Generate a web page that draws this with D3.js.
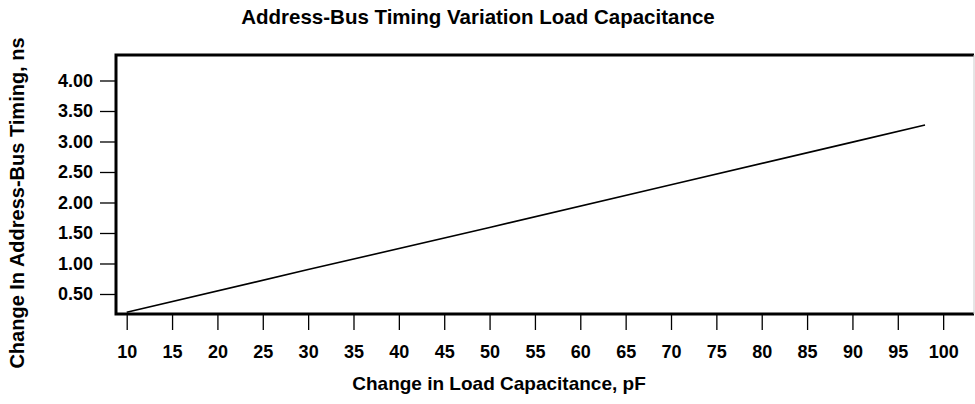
<!DOCTYPE html>
<html>
<head>
<meta charset="utf-8">
<script src="https://cdn.jsdelivr.net/npm/d3@7"></script>
<style>
  body { margin: 0; background: #fff; }
  text { font-family: "Liberation Sans", Arial, Helvetica, sans-serif; font-weight: bold; fill: #000; }
</style>
</head>
<body>
<script>
// load capacitance (pF) vs change in address-bus timing (ns)
var capacitance = [10, 30, 50, 70, 90, 98];
var timingChange = [0.20, 0.90, 1.59, 2.29, 2.99, 3.27];

var xTicks = [10, 15, 20, 25, 30, 35, 40, 45, 50, 55, 60, 65, 70, 75, 80, 85, 90, 95, 100];
var yTicks = [0.50, 1.00, 1.50, 2.00, 2.50, 3.00, 3.50, 4.00];

var titleText = "Address-Bus Timing Variation Load Capacitance";
var xTitle = "Change in Load Capacitance, pF";
var yTitle = "Change In Address-Bus Timing, ns";

var width = 975, height = 404;
var plot = { left: 116, right: 974, top: 55, bottom: 314 };
var tickLen = 16;

var data = capacitance.map(function(c, i) {
  return { x: c, y: timingChange[i] };
});

var svg = d3.select('body')
  .append('svg')
  .attr('width', width)
  .attr('height', height);

var xScale = d3.scaleLinear()
  .domain([8.82, 103.4])
  .range([plot.left, plot.right]);

var yScale = d3.scaleLinear()
  .domain([0.172, 4.418])
  .range([plot.bottom, plot.top]);

// x axis
var xAxis = d3.axisBottom(xScale)
  .tickValues(xTicks)
  .tickSize(tickLen)
  .tickPadding(15)
  .tickFormat(d3.format('d'));
var xAxisNodes = svg.append('g')
  .attr('transform', 'translate(0,' + plot.bottom + ')')
  .call(xAxis);
styleAxisNodes(xAxisNodes);

// y axis
var yAxis = d3.axisLeft(yScale)
  .tickValues(yTicks)
  .tickSize(tickLen)
  .tickPadding(7)
  .tickFormat(d3.format('.2f'));
var yAxisNodes = svg.append('g')
  .attr('transform', 'translate(' + plot.left + ',0)')
  .call(yAxis);
styleAxisNodes(yAxisNodes);

// frame: heavy left/top/bottom, faint right
svg.append('path')
  .attr('d', 'M' + plot.right + ',' + plot.top + 'H' + plot.left + 'V' + plot.bottom + 'H' + plot.right)
  .attr('fill', 'none')
  .attr('stroke', '#000')
  .attr('stroke-width', 3);
svg.append('line')
  .attr('x1', plot.right).attr('x2', plot.right)
  .attr('y1', plot.top).attr('y2', plot.bottom)
  .attr('stroke', '#ccc')
  .attr('stroke-width', 1);

// the line
var line = d3.line()
  .x(function(d) { return xScale(d.x); })
  .y(function(d) { return yScale(d.y); });
svg.append('path')
  .datum(data)
  .attr('d', line)
  .attr('fill', 'none')
  .attr('stroke', '#000')
  .attr('stroke-width', 1.6);

// titles
svg.append('text')
  .attr('x', 478)
  .attr('y', 24)
  .attr('text-anchor', 'middle')
  .style('font-size', '20.5px')
  .text(titleText);

svg.append('text')
  .attr('x', 499)
  .attr('y', 390)
  .attr('text-anchor', 'middle')
  .style('font-size', '19px')
  .text(xTitle);

svg.append('text')
  .attr('transform', 'translate(24,203) rotate(-90)')
  .attr('text-anchor', 'middle')
  .style('font-size', '20px')
  .text(yTitle);

function styleAxisNodes(axisNodes) {
  axisNodes.selectAll('.domain').remove();
  axisNodes.selectAll('.tick line')
    .attr('stroke', '#000')
    .attr('stroke-width', 1.3);
  axisNodes.selectAll('.tick text')
    .style('font-size', '18px')
    .style('font-family', '"Liberation Sans", Arial, sans-serif')
    .style('font-weight', 'bold');
}
</script>
</body>
</html>
